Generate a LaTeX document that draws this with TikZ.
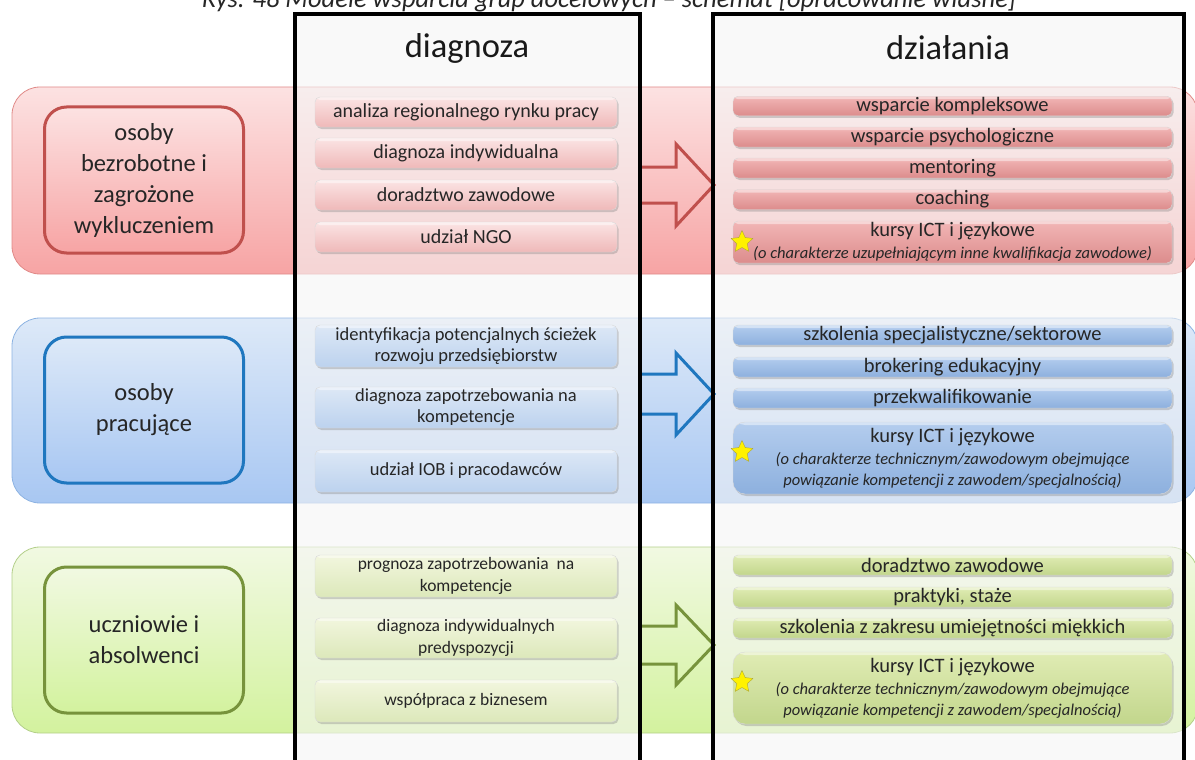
\documentclass[tikz,border=0pt]{standalone}
\usepackage{fontspec}
\setmainfont{Carlito}
\usepackage{tikz}
\usetikzlibrary{
    shadows,
    shapes.geometric
}

% palette: group colour, band top/bottom, band edge, diagnosis box, action box
\definecolor{redD}{HTML}{C0504D}
\definecolor{redBandT}{HTML}{FCE2E2}
\definecolor{redBandB}{HTML}{F7A4A4}
\definecolor{redEdge}{HTML}{E08A88}
\definecolor{redDgT}{HTML}{FBE4E4}
\definecolor{redDgB}{HTML}{EFB9B9}
\definecolor{redDzT}{HTML}{F2B6B6}
\definecolor{redDzB}{HTML}{DC8C8C}

\definecolor{bluD}{HTML}{1F77BF}
\definecolor{bluBandT}{HTML}{DDE9F8}
\definecolor{bluBandB}{HTML}{A8C7F2}
\definecolor{bluEdge}{HTML}{8DB3E2}
\definecolor{bluDgT}{HTML}{DDE8F6}
\definecolor{bluDgB}{HTML}{BCD2EE}
\definecolor{bluDzT}{HTML}{B4CDEE}
\definecolor{bluDzB}{HTML}{8DB0DE}

\definecolor{grnD}{HTML}{77933C}
\definecolor{grnBandT}{HTML}{F1F9E2}
\definecolor{grnBandB}{HTML}{D3F29E}
\definecolor{grnEdge}{HTML}{B3CF8A}
\definecolor{grnDgT}{HTML}{F2F6DE}
\definecolor{grnDgB}{HTML}{DCE8BA}
\definecolor{grnDzT}{HTML}{E0ECB4}
\definecolor{grnDzB}{HTML}{C2D68C}

\newcommand{\notefont}{\itshape\fontsize{16.5}{21}\selectfont}

\tikzset{
    box/.style={rounded corners=5pt, draw=black!15, line width=0.4pt,
        inner sep=1pt, align=center, text=black!85,
        drop shadow={shadow xshift=1.5pt, shadow yshift=-2pt, opacity=0.35},
        path picture={\fill[white, opacity=0.45]
            (path picture bounding box.north west) rectangle
            ([yshift=-3pt]path picture bounding box.north east);}},
    diag/.style={box, minimum width=302pt, minimum height=#1,
        font=\fontsize{18.5}{21}\selectfont},
    act/.style={box, minimum width=439pt, minimum height=#1,
        font=\fontsize{20.5}{21}\selectfont},
    group/.style={rounded corners=22pt, line width=3pt, minimum width=199pt,
        minimum height=146pt, align=center, text=black!85,
        font=\fontsize{24.5}{31}\selectfont},
    band/.style={rounded corners=28pt, line width=0.8pt},
    head/.style={font=\fontsize{34.5}{36}\selectfont, text=black!90},
    pin/.style={star, star points=5, star point ratio=2.1, fill=yellow,
        draw=olive!70, line width=0.4pt, minimum size=23pt, inner sep=0pt}
}

\begin{document}
\begin{tikzpicture}[x=1pt,y=-1pt]

\useasboundingbox (0,0) rectangle (1195,760);
\clip (0,0) rectangle (1195,760);

% caption, cut by the top edge
\node[anchor=base, font=\itshape\fontsize{26.5}{28}\selectfont, text=black!85]
    (cap) at (609,8) {Rys. 48 Modele wsparcia grup docelowych – schemat [opracowanie własne]};

% Bands for the three groups
\shade[band, top color=redBandT, bottom color=redBandB, draw=redEdge]
    (12,87) rectangle (1198,274);
\shade[band, top color=bluBandT, bottom color=bluBandB, draw=bluEdge]
    (12,318) rectangle (1198,503);
\shade[band, top color=grnBandT, bottom color=grnBandB, draw=grnEdge]
    (12,547) rectangle (1198,733);

% Column backgrounds
\fill[gray!8, opacity=0.6] (295,14) rectangle (640,770);
\fill[gray!8, opacity=0.6] (713,14) rectangle (1184,770);

% Block arrows between the columns
\foreach \c/\y/\s/\h in {redD/185/18/41, bluD/394/20/41, grnD/645/19/40}
    \draw[line width=3pt, draw=\c, line join=miter]
        (640,\y-\s) -- (676,\y-\s) -- (676,\y-\h) -- (714,\y)
        -- (676,\y+\h) -- (676,\y+\s) -- (640,\y+\s);

% Column headers
\node[head] (hDiag) at (467,48) {diagnoza};
\node[head] (hAct) at (948,48) {działania};

% Group labels
\node[group, draw=redD, top color=redBandT, bottom color=redBandB]
    (gRed) at (144,180) {osoby\\bezrobotne i\\zagrożone\\wykluczeniem};
\node[group, draw=bluD, top color=bluBandT, bottom color=bluBandB]
    (gBlu) at (144,410) {osoby\\pracujące};
\node[group, draw=grnD, top color=grnBandT, bottom color=grnBandB]
    (gGrn) at (144,640) {uczniowie i\\absolwenci};

% Diagnosis, first group
\node[diag=30pt, top color=redDgT, bottom color=redDgB, font=\fontsize{20}{21}\selectfont]
    (dR1) at (466,112) {analiza regionalnego rynku pracy};
\node[diag=30pt, top color=redDgT, bottom color=redDgB, font=\fontsize{20}{21}\selectfont]
    (dR2) at (466,153) {diagnoza indywidualna};
\node[diag=30pt, top color=redDgT, bottom color=redDgB, font=\fontsize{20}{21}\selectfont]
    (dR3) at (466,195) {doradztwo zawodowe};
\node[diag=30pt, top color=redDgT, bottom color=redDgB, font=\fontsize{20}{21}\selectfont]
    (dR4) at (466,237) {udział NGO};

% Diagnosis, second group
\node[diag=42pt, top color=bluDgT, bottom color=bluDgB]
    (dB1) at (466,346) {identyfikacja potencjalnych ścieżek\\rozwoju przedsiębiorstw};
\node[diag=41pt, top color=bluDgT, bottom color=bluDgB]
    (dB2) at (466,407.5) {diagnoza zapotrzebowania na\\kompetencje};
\node[diag=42pt, top color=bluDgT, bottom color=bluDgB]
    (dB3) at (466,471) {udział IOB i pracodawców};

% Diagnosis, third group
\node[diag=42pt, top color=grnDgT, bottom color=grnDgB, font=\fontsize{17.5}{22}\selectfont]
    (dG1) at (466,576) {prognoza zapotrzebowania\ \ na\\kompetencje};
\node[diag=40pt, top color=grnDgT, bottom color=grnDgB, font=\fontsize{17.5}{22}\selectfont]
    (dG2) at (466,638) {diagnoza indywidualnych\\predyspozycji};
\node[diag=42pt, top color=grnDgT, bottom color=grnDgB, font=\fontsize{17.5}{22}\selectfont]
    (dG3) at (466,701) {współpraca z biznesem};

% Actions, first group
\node[act=19pt, top color=redDzT, bottom color=redDzB] (aR1) at (952.5,106) {wsparcie kompleksowe};
\node[act=20pt, top color=redDzT, bottom color=redDzB] (aR2) at (952.5,137) {wsparcie psychologiczne};
\node[act=20pt, top color=redDzT, bottom color=redDzB] (aR3) at (952.5,168) {mentoring};
\node[act=20pt, top color=redDzT, bottom color=redDzB] (aR4) at (952.5,199.5) {coaching};
\node[act=42pt, top color=redDzT, bottom color=redDzB] (aR5) at (952.5,242)
    {kursy ICT i językowe\\[1pt]\notefont (o charakterze uzupełniającym inne kwalifikacja zawodowe)};
\node[pin] (sR) at (742,242) {};

% Actions, second group
\node[act=20pt, top color=bluDzT, bottom color=bluDzB] (aB1) at (952.5,335) {szkolenia specjalistyczne/sektorowe};
\node[act=20pt, top color=bluDzT, bottom color=bluDzB] (aB2) at (952.5,367) {brokering edukacyjny};
\node[act=20pt, top color=bluDzT, bottom color=bluDzB] (aB3) at (952.5,398) {przekwalifikowanie};
\node[act=72pt, top color=bluDzT, bottom color=bluDzB, rounded corners=12pt] (aB4) at (952.5,458)
    {kursy ICT i językowe\\[1pt]\notefont (o charakterze technicznym/zawodowym obejmujące\\\notefont powiązanie kompetencji z zawodem/specjalnością)};
\node[pin] (sB) at (742,452) {};

% Actions, third group
\node[act=20pt, top color=grnDzT, bottom color=grnDzB] (aG1) at (952.5,565) {doradztwo zawodowe};
\node[act=20pt, top color=grnDzT, bottom color=grnDzB] (aG2) at (952.5,597) {praktyki, staże};
\node[act=20pt, top color=grnDzT, bottom color=grnDzB] (aG3) at (952.5,628) {szkolenia z zakresu umiejętności miękkich};
\node[act=72pt, top color=grnDzT, bottom color=grnDzB, rounded corners=12pt] (aG4) at (952.5,688)
    {kursy ICT i językowe\\[1pt]\notefont (o charakterze technicznym/zawodowym obejmujące\\\notefont powiązanie kompetencji z zawodem/specjalnością)};
\node[pin] (sG) at (742,682) {};

% Column frames on top
\draw[line width=3.5pt] (295,770) -- (295,14) -- (640,14) -- (640,770);
\draw[line width=3.5pt] (713,770) -- (713,14) -- (1184,14) -- (1184,770);

\end{tikzpicture}
\end{document}
